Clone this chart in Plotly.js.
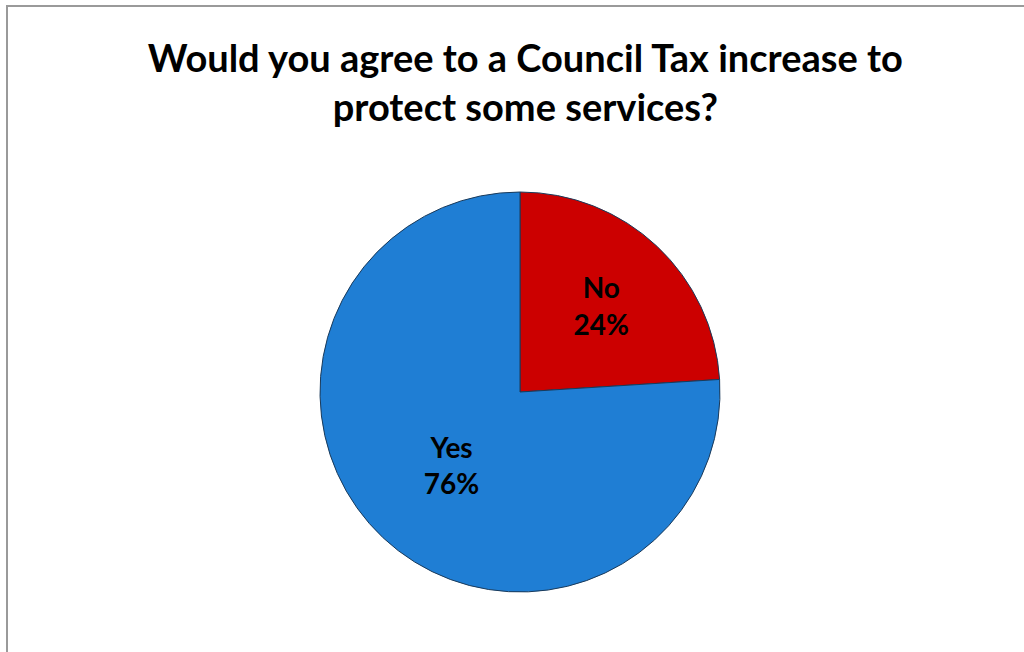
<!DOCTYPE html>
<html><head><meta charset="utf-8">
<script src="https://cdn.plot.ly/plotly-3.0.1.min.js"></script>
<style>
html,body{margin:0;padding:0;background:#fff;overflow:hidden;}
#frame{position:absolute;left:6px;top:5px;width:1030px;height:660px;border-left:2px solid #9a9a9a;border-top:2px solid #9a9a9a;pointer-events:none;z-index:5;}
#chart{position:absolute;left:0;top:0;width:1024px;height:652px;}
</style></head>
<body>
<div id="chart"></div><div id="frame"></div>
<script>
const categories = ["No", "Yes"];
const values = [24, 76];
const colors = ["#CC0000", "#1F7ED4"];

Plotly.newPlot("chart", [{
  type: "pie",
  labels: categories,
  values: values,
  sort: false,
  direction: "clockwise",
  rotation: 0,
  marker: {colors: colors, line: {color: "#1a3a5a", width: 1}},
  textinfo: "label+percent",
  texttemplate: "%{label}<br>%{percent:.0%}",
  textposition: "inside",
  insidetextorientation: "horizontal",
  textfont: {family: "Lato, sans-serif", size: 28, color: "#000", weight: "bold"},
  showlegend: false,
  hoverinfo: "none"
}], {
  width: 1024, height: 652,
  margin: {l: 320, r: 304, t: 192, b: 60},
  paper_bgcolor: "#fff",
  title: {
    text: "Would you agree to a Council Tax increase to<br>protect some services?",
    font: {family: "Lato, sans-serif", size: 38, color: "#000", weight: "bold"},
    x: 0.513, xanchor: "center",
    y: 1 - 72/652, yanchor: "top", yref: "container"
  }
}, {staticPlot: true});
</script>
</body></html>
